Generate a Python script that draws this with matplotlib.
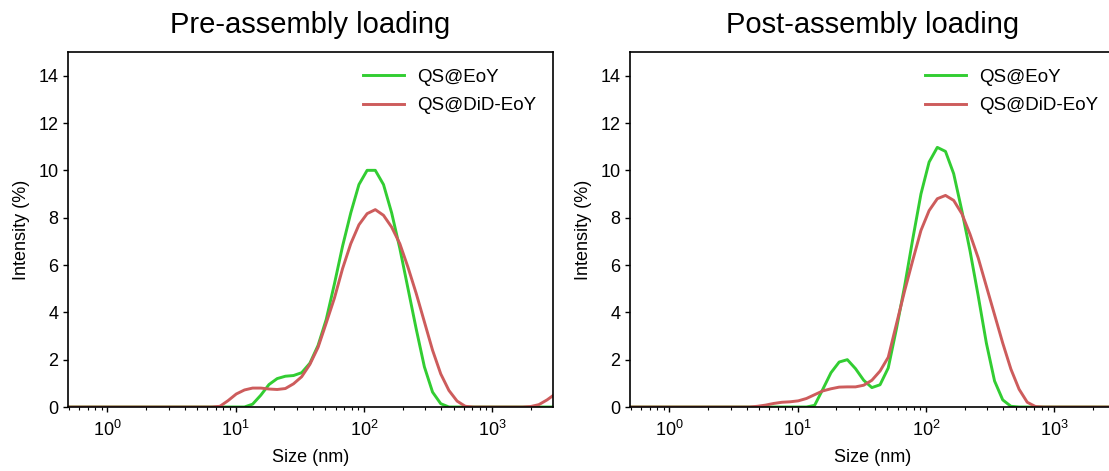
import matplotlib
matplotlib.use('Agg')
import matplotlib.pyplot as plt

plt.rcParams['font.family'] = ['Liberation Sans', 'DejaVu Sans']
plt.rcParams['mathtext.fontset'] = 'custom'
plt.rcParams['mathtext.rm'] = 'Liberation Sans'
plt.rcParams['mathtext.it'] = 'Liberation Sans:italic'
plt.rcParams['mathtext.bf'] = 'Liberation Sans:bold'

# DLS size bins (nm)
sizes_nm = [0.4, 0.4632, 0.5365, 0.6213, 0.7195, 0.8332, 0.9649, 1.117, 1.294, 1.499,
            1.736, 2.01, 2.328, 2.696, 3.122, 3.615, 4.187, 4.849, 5.615, 6.503,
            7.531, 8.721, 10.10, 11.70, 13.54, 15.69, 18.17, 21.04, 24.36, 28.21,
            32.67, 37.84, 43.82, 50.75, 58.77, 68.06, 78.82, 91.28, 105.7, 122.4,
            141.8, 164.2, 190.1, 220.2, 255.0, 295.3, 342.0, 396.1, 458.7, 531.2,
            615.1, 712.4, 825.0, 955.4, 1106, 1281, 1484, 1718, 1990, 2305,
            2669, 3091, 3580, 4145, 4801, 5560, 6439, 7456, 8635, 10000]

# Pre-assembly loading
pre_eoy = [0]*24 + [0.12, 0.5, 0.95, 1.2, 1.3, 1.33, 1.45, 1.85, 2.6, 3.7,
                    5.2, 6.8, 8.2, 9.4, 10.0, 10.0, 9.4, 8.2, 6.7, 5.0,
                    3.3, 1.7, 0.63, 0.14] + [0]*22
pre_did = [0]*20 + [0.03, 0.27, 0.55, 0.72, 0.8, 0.8, 0.76, 0.74, 0.78, 0.98,
                    1.28, 1.8, 2.52, 3.55, 4.6, 5.85, 6.9, 7.7, 8.17, 8.34,
                    8.1, 7.6, 6.9, 5.9, 4.8, 3.6, 2.4, 1.4, 0.7, 0.25,
                    0.03, 0, 0, 0, 0, 0, 0, 0, 0.02, 0.1,
                    0.3, 0.55] + [0]*8

# Post-assembly loading
post_eoy = [0]*24 + [0.07, 0.75, 1.45, 1.9, 2.0, 1.62, 1.13, 0.82, 0.94, 1.65,
                     3.3, 5.1, 7.1, 9.0, 10.35, 10.97, 10.8, 9.86, 8.3, 6.6,
                     4.7, 2.7, 1.1, 0.3, 0.03] + [0]*21
post_did = [0]*17 + [0.03, 0.08, 0.15, 0.2, 0.22, 0.26, 0.36, 0.52, 0.68, 0.77,
                     0.84, 0.85, 0.85, 0.92, 1.13, 1.52, 2.1, 3.5, 4.9, 6.2,
                     7.46, 8.3, 8.8, 8.94, 8.73, 8.17, 7.3, 6.3, 5.1, 3.9,
                     2.7, 1.6, 0.75, 0.2, 0.02] + [0]*18

titles = ['Pre-assembly loading', 'Post-assembly loading']
labels = ['QS@EoY', 'QS@DiD-EoY']
colors = ['#32CD32', '#CD5C5C']
yticks = [0, 2, 4, 6, 8, 10, 12, 14]

W, H = 1109, 471
fig = plt.figure(figsize=(W/100, H/100), dpi=100)
axw = (553 - 68) / W
axh = (407 - 52) / H
ax1 = fig.add_axes([68/W, 1 - 407/H, axw, axh])
ax2 = fig.add_axes([630/W, 1 - 407/H, axw, axh])

for ax, title, s1, s2 in [(ax1, titles[0], pre_eoy, pre_did),
                          (ax2, titles[1], post_eoy, post_did)]:
    ax.plot(sizes_nm, s1, color=colors[0], lw=2.1, label=labels[0])
    ax.plot(sizes_nm, s2, color=colors[1], lw=2.1, label=labels[1])
    ax.set_xscale('log')
    ax.set_xlim(0.493, 2970)
    ax.set_ylim(0, 15)
    ax.set_yticks(yticks)
    ax.set_title(title, fontsize=21, pad=14)
    ax.set_xlabel('Size (nm)', fontsize=13, labelpad=6)
    ax.set_ylabel('Intensity (%)', fontsize=13, labelpad=6)
    ax.tick_params(axis='both', which='major', labelsize=13, length=3.5, width=1, direction='out')
    ax.tick_params(axis='x', which='major', pad=6)
    ax.tick_params(axis='x', which='minor', length=2.2, width=0.8, direction='out')
    for sp in ax.spines.values():
        sp.set_linewidth(1.2)
    ax.legend(loc='upper right', frameon=False, fontsize=13.5, handlelength=2.2,
              handletextpad=0.7, labelspacing=0.6, borderaxespad=0.5)

fig.savefig('out.png', dpi=100)
